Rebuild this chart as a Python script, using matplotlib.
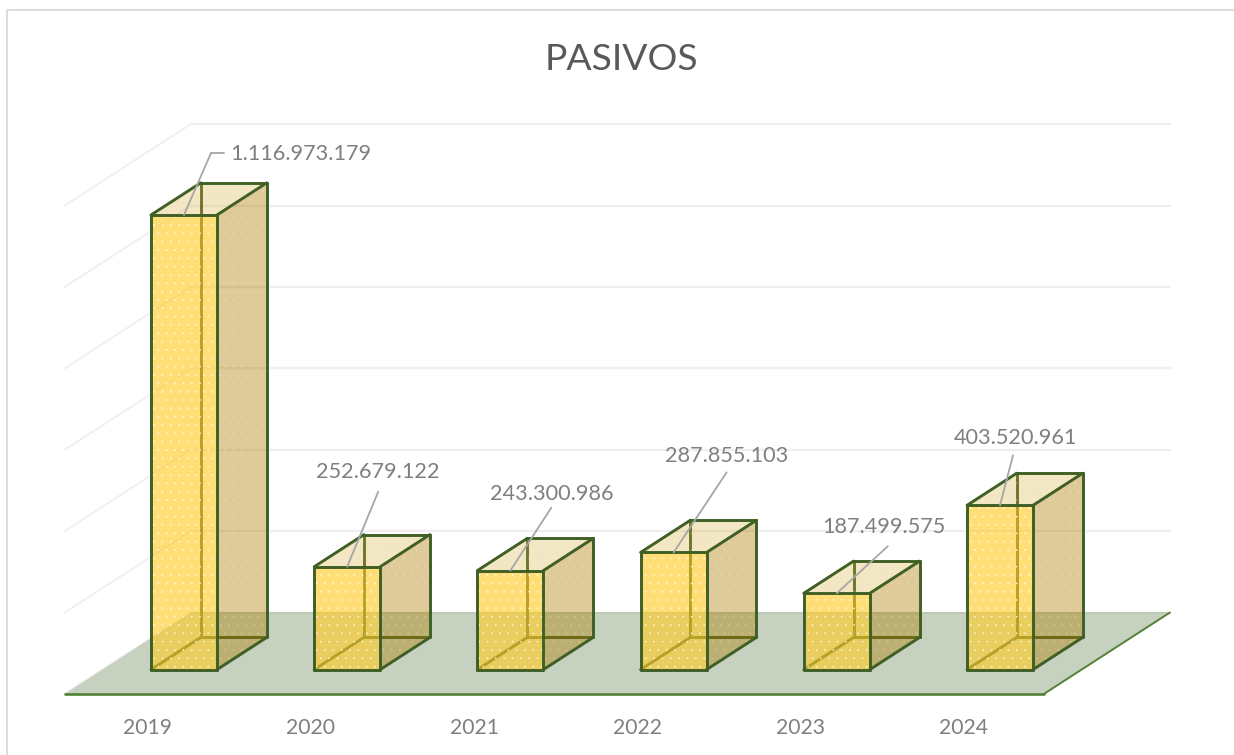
import matplotlib
matplotlib.use("Agg")
import matplotlib.pyplot as plt
from matplotlib.patches import Polygon
from matplotlib.lines import Line2D
from matplotlib.transforms import ScaledTranslation

# chart data
years = ["2019", "2020", "2021", "2022", "2023", "2024"]
pasivos = [1116973179, 252679122, 243300986, 287855103, 187499575, 403520961]
grid_values = [0, 200000000, 400000000, 600000000, 800000000, 1000000000, 1200000000]

# leader line / label offsets in pixels from the top of each bar
elbow_dx = [27, 31, 41, 53, 51, 13]
elbow_dy = [62, 75, 63, 80, 47, 50]
label_dx = [117, 31, 41, 53, 47, 15]
label_dy = [61, 95, 77, 96, 66, 67]

plt.rcParams['font.family'] = ['Lato', 'DejaVu Sans']
plt.rcParams['hatch.linewidth'] = 0.0

W, H = 1234, 755
PX_X = 163.2            # pixels per category
PX_Y = 488.4 / 1200000000  # pixels per unit of value

fig = plt.figure(figsize=(W / 100, H / 100), dpi=100)
ax = fig.add_axes([64.6 / W, (H - 694) / H, 979.2 / W, 488.4 / H])
ax.set_xlim(-0.5, 5.5)
ax.set_ylim(0, 1200000000)
ax.patch.set_visible(False)
for s in ax.spines.values():
    s.set_visible(False)

ax.set_xticks(range(len(years)))
ax.set_xticklabels(years, fontsize=15.2, color="#7f7f7f")
ax.set_yticks([])
ax.tick_params(axis='x', length=0, pad=17)
# nudge the year labels, they sit a bit right of the category centre
for t in ax.get_xticklabels():
    t.set_transform(t.get_transform() + ScaledTranslation(1.5 / 100, 0, fig.dpi_scale_trans))

# oblique projection: depth d goes 0 (front of floor) to 1 (back wall)
DX = 126 / PX_X
DY = 200000000
BAR_W = 66 / PX_X
D_FRONT = 0.30
D_BACK = 0.695


def proj(x, v, d):
    return (x + d * DX, v + d * DY)


def shift(p, dx, dy):
    return (p[0] + dx / PX_X, p[1] + dy / PX_Y)


def face(pts, z, **kw):
    p = Polygon(pts, closed=True, clip_on=False, zorder=z, **kw)
    ax.add_patch(p)
    return p


def dots(pts, alpha, z):
    face(pts, z, facecolor='none', edgecolor='white', hatch='..', linewidth=0, alpha=alpha)


def edge(a, b, color, lw=2.1, z=3):
    ax.add_line(Line2D([a[0], b[0]], [a[1], b[1]], color=color, lw=lw, clip_on=False,
                       solid_capstyle='round', zorder=z))


# back wall and left wall grid lines
for g in grid_values:
    edge(proj(-0.5, g, 1), proj(5.5, g, 1), "#efefef", lw=1.7, z=0.5)
    edge(proj(-0.5, g, 0), proj(-0.5, g, 1), "#efefef", lw=1.3, z=0.5)

# floor
face([proj(-0.5, 0, 0), proj(5.5, 0, 0), proj(5.5, 0, 1), proj(-0.5, 0, 1)], 1,
     facecolor="#c6d1bf", edgecolor='none')
edge(proj(-0.5, 0, 1), proj(5.5, 0, 1), "#bcc9b4", lw=1.4, z=1.1)
edge(proj(-0.5, 0, 0), proj(5.5, 0, 0), "#548235", lw=1.9, z=1.2)
edge(proj(5.5, 0, 0), proj(5.5, 0, 1), "#548235", lw=1.4, z=1.2)

# bars
for i, val in enumerate(pasivos):
    x0 = i - BAR_W / 2
    x1 = i + BAR_W / 2
    fbl, fbr = proj(x0, 0, D_FRONT), proj(x1, 0, D_FRONT)
    ftl, ftr = proj(x0, val, D_FRONT), proj(x1, val, D_FRONT)
    bbl, bbr = proj(x0, 0, D_BACK), proj(x1, 0, D_BACK)
    btl, btr = proj(x0, val, D_BACK), proj(x1, val, D_BACK)

    # hidden edges, seen through the faces
    edge(bbl, btl, "#3f5f25", z=1.5)
    edge(bbl, bbr, "#3f5f25", z=1.5)
    edge(bbl, fbl, "#3f5f25", z=1.5)

    # side and top faces
    face([fbr, bbr, btr, ftr], 2, facecolor=(175 / 255, 125 / 255, 0), alpha=0.4, edgecolor='none')
    dots([fbr, bbr, btr, ftr], 0.3, 2.1)
    face([ftl, ftr, btr, btl], 2, facecolor=(216 / 255, 173 / 255, 57 / 255), alpha=0.3, edgecolor='none')
    dots([ftl, ftr, btr, btl], 0.3, 2.1)

    # front face
    face([fbl, fbr, ftr, ftl], 2.2, facecolor=(1, 203 / 255, 37 / 255), alpha=0.62, edgecolor='none')
    dots([fbl, fbr, ftr, ftl], 0.9, 2.3)

    # outline
    for a, b in [(fbl, fbr), (fbr, ftr), (ftr, ftl), (ftl, fbl), (ftl, btl), (btl, btr),
                 (btr, ftr), (btr, bbr), (bbr, fbr)]:
        edge(a, b, "#3f5f25")

    # leader line and value label
    top = proj(i, val, D_FRONT)
    elbow = shift(top, elbow_dx[i], elbow_dy[i])
    edge(top, elbow, "#a6a6a6", lw=1.3, z=4)
    if i == 0:
        edge(elbow, shift(elbow, 13, 0), "#a6a6a6", lw=1.3, z=4)
    lbl = f"{val:,}".replace(",", ".")
    pos = shift(top, label_dx[i], label_dy[i])
    ax.text(pos[0], pos[1], lbl, ha='center', va='center', fontsize=15.6, color="#7f7f7f",
            clip_on=False, zorder=5)

# chart title and frame
fig.text(621 / W, 1 - 60 / H, "PASIVOS", ha='center', va='center', fontsize=26.8, color="#595959")
fig.add_artist(Line2D([6.5 / W, 6.5 / W, 1], [0, 1 - 10 / H, 1 - 10 / H], color="#dcdcdc", lw=1.5))

fig.savefig("out.png", dpi=100)
